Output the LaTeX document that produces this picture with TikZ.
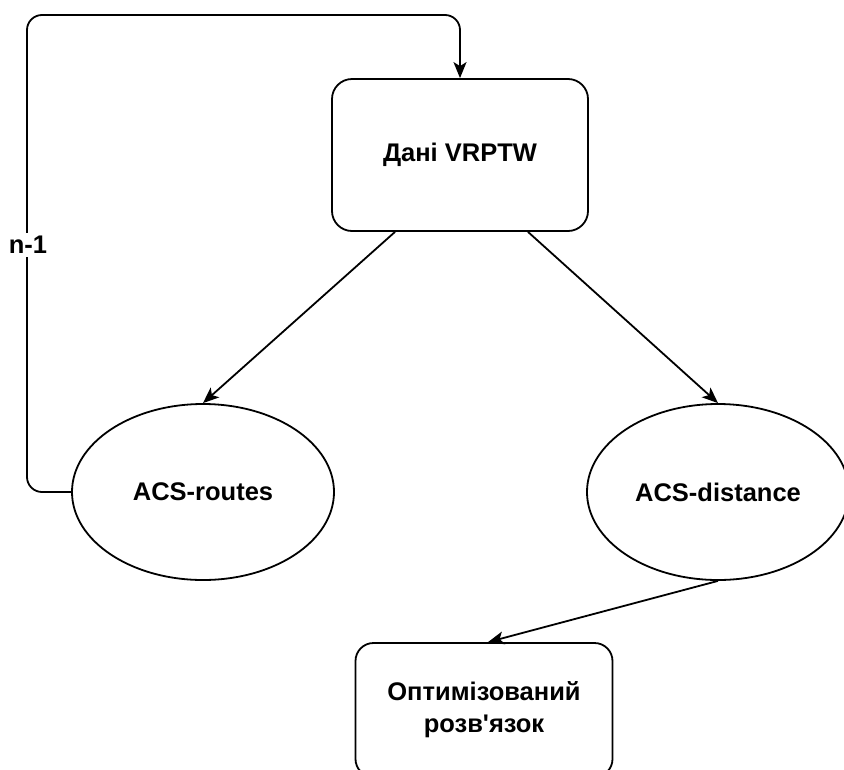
\documentclass[tikz,border=0pt]{standalone}
\usepackage{fontspec}
\setmainfont{Liberation Sans}[Ligatures=TeXOff]
\usetikzlibrary{shapes.geometric,arrows.meta,calc}

\tikzset{
  every node/.style={font=\bfseries\fontsize{25.5}{32}\selectfont, text=black},
  box/.style={draw, line width=1.8pt, rectangle, rounded corners=20pt, align=center},
  oval/.style={draw, line width=1.8pt, ellipse, minimum width=262pt, minimum height=176pt, inner sep=0pt},
  arr/.style={line width=1.8pt, -{Stealth[length=16pt, width=13pt, inset=4pt]}},
}

\begin{document}
\begin{tikzpicture}[x=1pt, y=-1pt]
  \useasboundingbox (0,0) rectangle (844,769);

  % nodes
  \node[box, minimum width=256pt, minimum height=152pt] (data) at (460,155) {Дані VRPTW};
  \node[oval] (routes) at (203,492) {ACS-routes};
  \node[oval] (dist) at (718,492) {ACS-distance};
  \node[box, rounded corners=18pt, minimum width=257pt, minimum height=134pt] (result) at (484,710)
       {Оптимізований\\розв'язок};

  % connectors
  \draw[arr] ($(data.south)+(-65,0)$) -- (routes.north);
  \draw[arr] ($(data.south)+(68,0)$) -- (dist.north);
  \draw[arr] (dist.south) -- ($(result.north)+(4,0)$);

  % feedback loop
  \coordinate (loopTL) at (27,15);
  \draw[arr, rounded corners=15pt] (routes.west) -| (loopTL) -| (data.north);
  \node[fill=white, inner sep=3pt] (lbl) at (28,245) {n-1};
\end{tikzpicture}
\end{document}
